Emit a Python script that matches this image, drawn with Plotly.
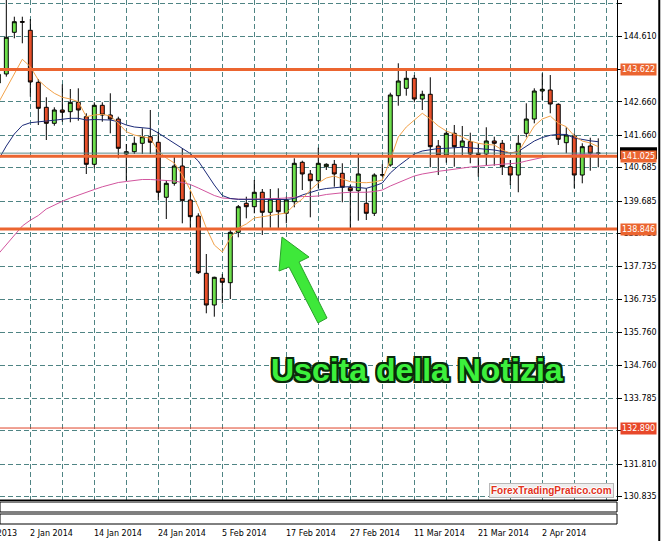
import plotly.graph_objects as go
from plotly.subplots import make_subplots

# ---------------- data (EUR/JPY daily) ----------------
dates = [
    "2013-12-26", "2013-12-27", "2013-12-30", "2013-12-31", "2014-01-02", "2014-01-03",
    "2014-01-06", "2014-01-07", "2014-01-08", "2014-01-09", "2014-01-10", "2014-01-13",
    "2014-01-14", "2014-01-15", "2014-01-16", "2014-01-17", "2014-01-20", "2014-01-21",
    "2014-01-22", "2014-01-23", "2014-01-24", "2014-01-27", "2014-01-28", "2014-01-29",
    "2014-01-30", "2014-01-31", "2014-02-03", "2014-02-04", "2014-02-05", "2014-02-06",
    "2014-02-07", "2014-02-10", "2014-02-11", "2014-02-12", "2014-02-13", "2014-02-14",
    "2014-02-17", "2014-02-18", "2014-02-19", "2014-02-20", "2014-02-21", "2014-02-24",
    "2014-02-25", "2014-02-26", "2014-02-27", "2014-02-28", "2014-03-03", "2014-03-04",
    "2014-03-05", "2014-03-06", "2014-03-07", "2014-03-10", "2014-03-11", "2014-03-12",
    "2014-03-13", "2014-03-14", "2014-03-17", "2014-03-18", "2014-03-19", "2014-03-20",
    "2014-03-21", "2014-03-24", "2014-03-25", "2014-03-26", "2014-03-27", "2014-03-28",
    "2014-03-31", "2014-04-01", "2014-04-02", "2014-04-03", "2014-04-04", "2014-04-07",
    "2014-04-08", "2014-04-09", "2014-04-10", "2014-04-11",
]
opens = [
    143.220, 143.490, 144.738, 145.060, 144.798, 143.241, 142.492, 142.013, 142.412, 142.361,
    142.642, 142.211, 140.786, 142.552, 142.262, 142.142, 141.094, 141.163, 141.415, 141.612,
    141.445, 139.798, 140.217, 140.735, 139.717, 139.238, 137.522, 136.573, 137.373, 137.241,
    138.750, 139.618, 139.516, 139.948, 139.349, 139.747, 139.319, 139.666, 140.846, 140.496,
    140.295, 140.714, 140.786, 140.516, 140.085, 139.995, 139.618, 139.319, 140.465, 140.765,
    142.840, 143.061, 143.361, 142.741, 142.882, 141.334, 141.064, 141.714, 141.313, 141.463,
    141.115, 141.094, 141.484, 141.415, 140.714, 140.465, 141.714, 142.142, 142.980, 143.010,
    142.582, 141.433, 141.633, 140.465, 141.334, 141.115,
]
highs = [
    143.550, 145.750, 145.205, 145.205, 145.136, 143.340, 142.792, 142.492, 143.181, 143.040,
    143.061, 142.313, 142.642, 142.642, 142.912, 142.211, 141.394, 141.612, 141.864, 142.412,
    141.762, 140.316, 141.013, 141.265, 139.995, 139.319, 138.100, 137.420, 137.501, 138.819,
    139.567, 139.816, 140.316, 140.046, 140.046, 140.067, 139.816, 140.966, 140.894, 140.615,
    141.283, 140.816, 140.915, 140.816, 140.166, 141.115, 140.067, 140.516, 140.786, 142.930,
    143.810, 143.588, 143.459, 142.989, 143.391, 141.513, 141.783, 141.963, 141.933, 141.732,
    141.415, 141.894, 141.612, 141.513, 140.915, 141.663, 142.612, 143.061, 143.510, 143.459,
    142.612, 141.894, 141.714, 141.415, 141.582, 141.564,
]
lows = [
    143.100, 143.410, 144.558, 144.409, 142.810, 141.962, 141.513, 141.941, 142.061, 142.043,
    142.091, 140.495, 140.666, 142.061, 141.714, 140.966, 140.295, 141.094, 141.094, 141.094,
    139.717, 139.148, 140.145, 139.019, 138.819, 137.501, 136.325, 136.223, 136.624, 136.753,
    138.600, 139.169, 139.319, 138.669, 138.888, 138.870, 139.019, 139.498, 140.016, 139.199,
    140.067, 140.615, 140.115, 139.648, 138.819, 139.097, 139.118, 139.238, 140.415, 140.714,
    142.540, 142.840, 142.642, 142.412, 140.696, 140.465, 140.834, 140.714, 141.064, 140.816,
    140.415, 140.744, 140.744, 140.465, 140.166, 139.948, 141.594, 142.013, 142.711, 142.313,
    141.364, 141.115, 140.067, 140.217, 140.594, 140.696,
]
closes = [
    143.480, 144.590, 145.055, 145.040, 143.250, 142.462, 142.013, 142.412, 142.343, 142.642,
    142.412, 140.786, 142.552, 142.262, 142.142, 141.265, 141.163, 141.415, 141.612, 141.445,
    139.948, 140.217, 140.735, 139.696, 139.217, 137.540, 136.573, 137.403, 137.253, 138.750,
    139.516, 139.516, 139.948, 139.349, 139.747, 139.367, 139.717, 140.816, 140.496, 140.295,
    140.816, 140.786, 140.496, 140.097, 139.995, 140.496, 139.319, 140.465, 140.470, 142.861,
    143.280, 143.361, 142.741, 142.882, 141.313, 141.064, 141.714, 141.313, 141.484, 141.094,
    141.085, 141.484, 141.415, 140.714, 140.465, 141.415, 142.142, 142.980, 143.031, 142.591,
    141.534, 141.663, 140.465, 141.313, 141.115, 141.120,
]
ma_fast = [
    142.621, 143.070, 143.519, 143.930, 143.708, 143.310, 143.091, 142.912, 142.792, 142.741,
    142.660, 142.211, 142.262, 142.283, 142.232, 142.013, 141.762, 141.663, 141.612, 141.564,
    141.184, 140.974, 140.825, 140.465, 140.016, 139.507, 138.879, 138.370, 138.160, 138.579,
    138.879, 138.998, 139.178, 139.217, 139.268, 139.298, 139.328, 139.567, 139.747, 140.016,
    140.226, 140.376, 140.436, 140.346, 140.265, 140.241, 140.235, 140.256, 140.316, 140.915,
    141.603, 141.903, 142.112, 142.313, 142.142, 141.933, 141.783, 141.693, 141.603, 141.483,
    141.415, 141.379, 141.364, 141.214, 141.124, 141.154, 141.543, 141.933, 142.142, 142.232,
    142.013, 141.912, 141.633, 141.483, 141.424, 141.313,
]
ma_mid = [
    140.915, 141.334, 141.693, 141.948, 142.031, 142.067, 142.082, 142.106, 142.136, 142.163,
    142.163, 142.112, 142.127, 142.127, 142.112, 142.061, 141.962, 141.903, 141.873, 141.858,
    141.723, 141.573, 141.424, 141.274, 141.109, 140.885, 140.525, 140.166, 139.852, 139.762,
    139.738, 139.738, 139.732, 139.726, 139.723, 139.717, 139.732, 139.762, 139.867, 139.941,
    140.016, 140.061, 140.091, 140.106, 140.115, 140.091, 140.067, 140.136, 140.226, 140.525,
    140.735, 140.915, 141.094, 141.184, 141.229, 141.259, 141.265, 141.274, 141.298, 141.280,
    141.265, 141.238, 141.214, 141.169, 141.124, 141.169, 141.319, 141.483, 141.588, 141.654,
    141.684, 141.678, 141.573, 141.528, 141.489, 141.462,
]
ma_slow = [
    138.100, 138.370, 138.654, 138.939, 139.112, 139.253, 139.448, 139.567, 139.678, 139.777,
    139.867, 139.948, 140.031, 140.112, 140.187, 140.241, 140.271, 140.301, 140.331, 140.331,
    140.316, 140.316, 140.286, 140.241, 140.181, 140.076, 139.957, 139.852, 139.777, 139.753,
    139.741, 139.738, 139.741, 139.747, 139.756, 139.765, 139.777, 139.807, 139.822, 139.822,
    139.837, 139.882, 139.918, 139.933, 139.948, 139.948, 139.948, 139.971, 140.016, 140.136,
    140.241, 140.331, 140.436, 140.495, 140.546, 140.576, 140.606, 140.645, 140.681, 140.705,
    140.729, 140.756, 140.774, 140.789, 140.804, 140.825, 140.885, 140.944, 140.989, 141.019,
    141.040, 141.055, 141.064, 141.079, 141.088, 141.094,
]
levels = [143.622, 141.025, 138.846]
level_minor = 132.890
price_ticks = [145.610, 144.610, 143.635, 142.660, 141.660, 140.685, 139.685, 138.710,
               137.735, 136.735, 135.760, 134.760, 133.785, 132.810, 131.810, 130.835]
hidden_ticks = [143.635, 132.810]   # labels fully covered by the level boxes
date_labels = ["19 Dec 2013", "2 Jan 2014", "14 Jan 2014", "24 Jan 2014", "5 Feb 2014",
               "17 Feb 2014", "27 Feb 2014", "11 Mar 2014", "21 Mar 2014", "2 Apr 2014"]
headline = "Uscita della Notizia"
watermark = "ForexTradingPratico.com"

# ---------------- styling ----------------
X0, X1 = 0.21, 77.34
Y0, Y1 = 130.735, 145.705
GRID = "#4f8484"
ORANGE = "#eb6530"
FONT = "DejaVu Sans"
PLOT_W = 617.0
PLOT_H = 524.0
PX_PER_UNIT = 500.0 / (Y1 - Y0)

x = list(range(len(dates)))

fig = make_subplots(rows=3, cols=1, shared_xaxes=True,
                    row_heights=[500, 10, 10], vertical_spacing=2 / PLOT_H)

fig.add_trace(go.Candlestick(
    x=x, open=opens, high=highs, low=lows, close=closes,
    increasing=dict(fillcolor="#6ee04c", line=dict(color="black", width=1)),
    decreasing=dict(fillcolor="#e8502a", line=dict(color="black", width=1)),
    whiskerwidth=0, hoverinfo="skip"), row=1, col=1)

fig.add_trace(go.Scatter(x=x, y=ma_slow, mode="lines", hoverinfo="skip",
                         line=dict(color="#d2559e", width=1)), row=1, col=1)
fig.add_trace(go.Scatter(x=x, y=ma_mid, mode="lines", hoverinfo="skip",
                         line=dict(color="#1b2a78", width=1)), row=1, col=1)
fig.add_trace(go.Scatter(x=x, y=ma_fast, mode="lines", hoverinfo="skip",
                         line=dict(color="#f2a24a", width=1)), row=1, col=1)

shapes = []
# bid line at the last close
shapes.append(dict(type="line", xref="x domain", x0=0, x1=1, yref="y",
                   y0=closes[-1], y1=closes[-1], line=dict(color="#5b8a8a", width=1)))
for lv in levels:
    shapes.append(dict(type="line", xref="x domain", x0=0, x1=1, yref="y",
                       y0=lv, y1=lv, line=dict(color=ORANGE, width=3)))
shapes.append(dict(type="line", xref="x domain", x0=0, x1=1, yref="y",
                   y0=level_minor, y1=level_minor, line=dict(color="#e0452a", width=1)))
# black current-price marker on the axis (mostly hidden behind the 141.025 box)
shapes.append(dict(type="rect", xref="paper", x0=1 + 3 / PLOT_W, x1=1 + 40 / PLOT_W,
                   yref="y", y0=closes[-1] - 6 / PX_PER_UNIT, y1=closes[-1] + 6 / PX_PER_UNIT,
                   fillcolor="black", line=dict(width=0)))
# green arrow (decoration) in data units
shapes.append(dict(type="path", xref="x", yref="y",
                   path="M 35.46,138.609 L 38.84,138.010 L 37.59,137.861 L 41.09,136.184 "
                        "L 39.96,136.034 L 36.34,137.711 L 35.09,137.591 Z",
                   fillcolor="#3ee83a", line=dict(color="#2aa02a", width=1)))
# frames of main pane bottom and the two empty indicator panes
shapes.append(dict(type="line", xref="paper", yref="paper", x0=0, x1=1,
                   y0=24 / PLOT_H, y1=24 / PLOT_H, line=dict(color="black", width=1)))
for lo, hi in [(12, 22), (0, 10)]:
    shapes.append(dict(type="rect", xref="paper", yref="paper", x0=0, x1=1,
                       y0=lo / PLOT_H, y1=hi / PLOT_H, line=dict(color="black", width=1),
                       fillcolor="rgba(0,0,0,0)"))
# window border at the right
shapes.append(dict(type="line", xref="paper", yref="paper", x0=1.0685, x1=1.0685,
                   y0=-0.04, y1=1.01, line=dict(color="black", width=2)))
fig.update_layout(shapes=shapes)

annotations = []
for lv in levels:
    annotations.append(dict(x=1, xref="paper", y=lv, yref="y", xanchor="left", xshift=3,
                            text=f"{lv:.3f}", showarrow=False, bgcolor=ORANGE,
                            font=dict(color="white", size=8, family=FONT), borderpad=1))
annotations.append(dict(x=1, xref="paper", y=level_minor, yref="y", xanchor="left",
                        xshift=3, text=f"{level_minor:.3f}", showarrow=False,
                        bgcolor="#e8482a", font=dict(color="white", size=8, family=FONT),
                        borderpad=1))
# date labels, left aligned at their tick
first = dates.index("2014-01-02")
for j, lab in enumerate(date_labels):
    pos = first + 8 * (j - 1)
    annotations.append(dict(x=(pos - X0) / (X1 - X0), xref="paper", y=-0.0172,
                            yref="paper", xanchor="left", yanchor="middle", xshift=-2,
                            text=lab, showarrow=False,
                            font=dict(color="black", size=8, family=FONT)))
# headline
annotations.append(dict(x=52.3, xref="x", y=134.63, yref="y", text=f"<b>{headline}</b>",
                        showarrow=False, xanchor="center", yanchor="middle",
                        font=dict(color="#3cf03c", size=32, family="Liberation Sans",
                                  shadow="2px 0 0 #0a2a0a, -2px 0 0 #0a2a0a, 0 2px 0 #0a2a0a, "
                                         "0 -2px 0 #0a2a0a, 2px 2px 0 #0a2a0a, -2px -2px 0 #0a2a0a, "
                                         "2px -2px 0 #0a2a0a, -2px 2px 0 #0a2a0a")))
# watermark
annotations.append(dict(x=551 / PLOT_W, xref="paper", y=(PLOT_H - 490) / PLOT_H, yref="paper",
                        text=f"<b>{watermark}</b>", showarrow=False,
                        xanchor="center", yanchor="middle",
                        bgcolor="#eeeeee", bordercolor="#b8b8b8", borderwidth=1, borderpad=1,
                        font=dict(color="#e2321c", size=10, family="Liberation Sans",
                                  shadow="1px 0 0 #fff, -1px 0 0 #fff, 0 1px 0 #fff, 0 -1px 0 #fff")))
fig.update_layout(annotations=annotations)

grid_kw = dict(showgrid=True, gridcolor=GRID, griddash="5px,3px", gridwidth=1)
fig.update_layout(
    width=661, height=541,
    margin=dict(l=0, r=44, t=0, b=17),
    paper_bgcolor="white", plot_bgcolor="white",
    showlegend=False, hovermode=False,
    font=dict(family=FONT, size=8, color="black"),
    xaxis=dict(range=[X0, X1], tick0=4, dtick=4, showticklabels=False, ticks="",
               showline=True, linecolor="black", linewidth=1, zeroline=False,
               rangeslider=dict(visible=False), **grid_kw),
    xaxis2=dict(range=[X0, X1], tick0=4, dtick=4, showticklabels=False, ticks="",
                showline=True, mirror=True, linecolor="black", linewidth=1,
                zeroline=False, **grid_kw),
    xaxis3=dict(range=[X0, X1], tick0=4, dtick=8, showticklabels=False, ticks="outside",
                ticklen=4, tickcolor="black", showline=True, mirror=True,
                linecolor="black", linewidth=1, zeroline=False,
                minor=dict(tick0=4, dtick=4, showgrid=True, gridcolor=GRID,
                           griddash="5px,3px", ticks=""),
                **grid_kw),
    yaxis=dict(range=[Y0, Y1], side="right", tickvals=price_ticks,
               ticktext=["" if v in hidden_ticks else f"{v:.3f}" for v in price_ticks],
               ticks="outside", ticklen=4,
               tickcolor="black", showline=True, linecolor="black", linewidth=1,
               zeroline=False, tickfont=dict(size=8, family=FONT, color="black"),
               **grid_kw),
    yaxis2=dict(range=[0, 1], showticklabels=False, showgrid=False, ticks="",
                showline=True, mirror=True, linecolor="black", zeroline=False),
    yaxis3=dict(range=[0, 1], showticklabels=False, showgrid=False, ticks="",
                showline=True, mirror=True, linecolor="black", zeroline=False),
)

fig.write_html("out.html", config={"displayModeBar": False},
               post_script="document.body.style.margin='0';document.body.style.padding='0';")
